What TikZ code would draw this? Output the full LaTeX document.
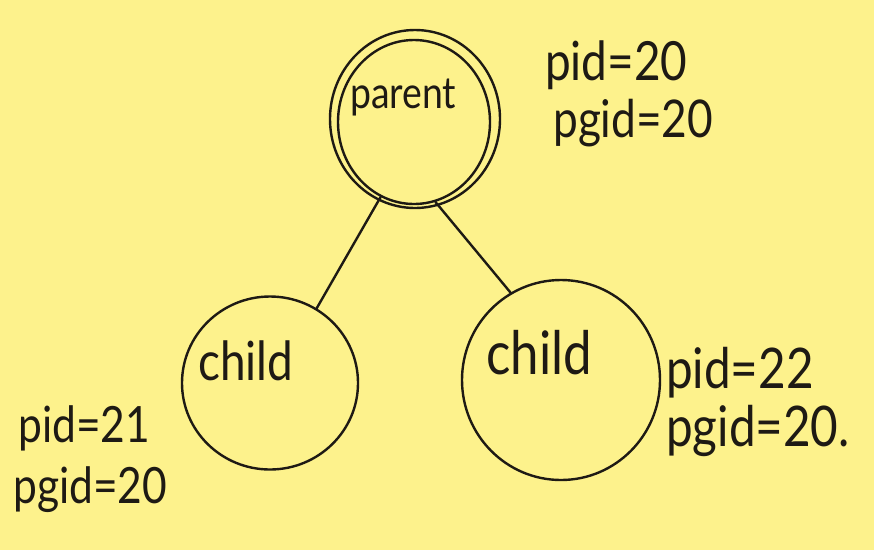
\documentclass[tikz,border=0pt]{standalone}
\usepackage{fontspec}
\setmainfont[FakeStretch=0.85]{Lato}
\usetikzlibrary{shapes.geometric}
\definecolor{paper}{RGB}{253,242,140}
\definecolor{ink}{RGB}{30,26,20}
\tikzset{
  ink line/.style={draw=ink, line width=2.4pt, line cap=round},
  bubble/.style={ellipse, ink line, inner sep=0pt},
  hand/.style={text=ink, inner sep=0pt, anchor=base west},
}
\begin{document}
\begin{tikzpicture}[x=1pt,y=-1pt]
\fill[paper] (0,0) rectangle (874,550);
\useasboundingbox (0,0) rectangle (874,550);
% parent (drawn twice by hand)
\node[bubble, minimum width=152pt, minimum height=164pt] (parent) at (414,122) {};
\draw[ink line] (415,119) ellipse [x radius=85, y radius=89];
\node[bubble, minimum width=176pt, minimum height=173pt] (left) at (270,383) {};
\node[bubble, minimum width=198pt, minimum height=200pt] (right) at (561,380) {};
\draw[ink line] (parent.246) -- (left.58);
\draw[ink line] (parent.285) -- (right.120);
% texts
\node[hand, font=\fontsize{44}{46}\selectfont] (tparent) at (350,108) {parent};
\node[hand, font=\fontsize{54}{56}\selectfont] (tleft) at (198,380) {child};
\node[hand, font=\fontsize{60}{62}\selectfont] (tright) at (486,374) {child};
\node[hand, font=\fontsize{54}{56}\selectfont] (p1) at (545,80) {pid=20};
\node[hand, font=\fontsize{52}{54}\selectfont] (g1) at (553,137) {pgid=20};
\node[hand, font=\fontsize{50}{52}\selectfont] (p2) at (18,442) {pid=21};
\node[hand, font=\fontsize{50}{52}\selectfont] (g2) at (13,503) {pgid=20};
\node[hand, font=\fontsize{56}{58}\selectfont] (p3) at (666,388) {pid=22};
\node[hand, font=\fontsize{56}{58}\selectfont] (g3) at (666,446) {pgid=20.};
\end{tikzpicture}
\end{document}
